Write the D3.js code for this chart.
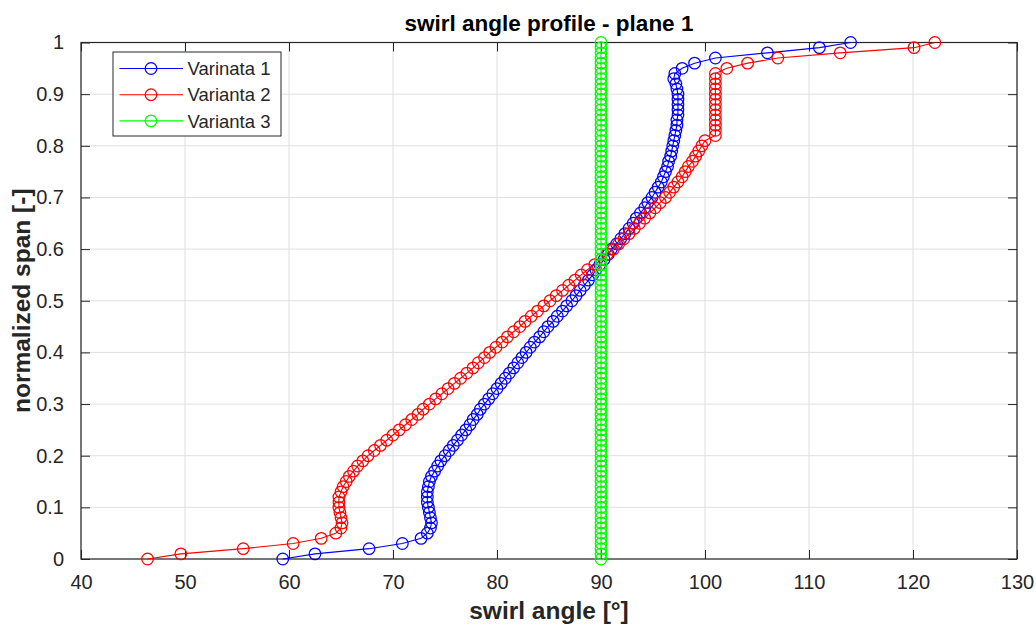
<!DOCTYPE html>
<html>
<head>
<meta charset="utf-8">
<script src="https://cdn.jsdelivr.net/npm/d3@7"></script>
<style>
  html, body { margin: 0; padding: 0; background: #fff; }
  svg { display: block; font-family: "Liberation Sans", Arial, Helvetica, sans-serif; }
</style>
</head>
<body>
<svg id="chart" width="1036" height="629"></svg>
<script>
// Normalized span stations, 0 .. 1 in steps of 0.01
const span = d3.range(0, 101).map(i => +(i / 100).toFixed(2));

// Swirl angle [°] at each span station
const variant1 = [
  59.4, 62.5, 67.7, 70.9, 72.7, 73.3, 73.6, 73.7, 73.6, 73.5,
  73.4, 73.3, 73.3, 73.3, 73.4, 73.5, 73.7, 74.0, 74.3, 74.6,
  75.0, 75.4, 75.8, 76.2, 76.6, 77.0, 77.4, 77.7, 78.1, 78.4,
  78.8, 79.2, 79.6, 80.0, 80.4, 80.8, 81.2, 81.6, 82.0, 82.4,
  82.8, 83.2, 83.6, 84.1, 84.5, 84.9, 85.4, 85.8, 86.3, 86.7,
  87.2, 87.6, 88.0, 88.4, 88.8, 89.2, 89.5, 89.9, 90.3, 90.7,
  91.0, 91.5, 91.9, 92.3, 92.7, 93.1, 93.4, 93.8, 94.2, 94.5,
  94.9, 95.2, 95.5, 95.8, 96.0, 96.2, 96.4, 96.5, 96.7, 96.8,
  96.9, 97.0, 97.1, 97.2, 97.3, 97.3, 97.4, 97.4, 97.4, 97.4,
  97.4, 97.3, 97.2, 97.0, 97.1, 97.8, 99.0, 101.0, 106.0, 111.0,
  114.0
];
const variant2 = [
  46.4, 49.6, 55.6, 60.4, 63.1, 64.5, 65.0, 65.1, 65.0, 64.9,
  64.8, 64.8, 64.8, 65.0, 65.2, 65.5, 65.8, 66.2, 66.6, 67.1,
  67.6, 68.2, 68.8, 69.4, 70.0, 70.6, 71.2, 71.8, 72.4, 72.9,
  73.5, 74.1, 74.7, 75.3, 75.9, 76.5, 77.1, 77.7, 78.2, 78.8,
  79.3, 79.9, 80.5, 81.0, 81.6, 82.2, 82.7, 83.3, 83.9, 84.5,
  85.1, 85.7, 86.3, 86.9, 87.5, 88.1, 88.7, 89.4, 90.0, 90.6,
  91.2, 91.7, 92.2, 92.7, 93.2, 93.7, 94.2, 94.7, 95.2, 95.7,
  96.2, 96.6, 97.0, 97.4, 97.8, 98.1, 98.4, 98.8, 99.1, 99.4,
  99.7, 100.0, 101.0, 101.0, 101.0, 101.0, 101.0, 101.0, 101.0, 101.0,
  101.0, 101.0, 101.0, 101.0, 101.0, 102.1, 104.1, 107.0, 113.0, 120.1,
  122.1
];
const variant3 = span.map(() => 90);

const seriesNames = ["Varinata 1", "Varianta 2", "Varianta 3"];
const seriesColors = ["#0000ff", "#ff0000", "#00ff00"];

const xTicks = [40, 50, 60, 70, 80, 90, 100, 110, 120, 130];
const yTicks = [0, 0.1, 0.2, 0.3, 0.4, 0.5, 0.6, 0.7, 0.8, 0.9, 1];

const titleText = "swirl angle profile - plane 1";
const xLabel = "swirl angle [°]";
const yLabel = "normalized span [-]";

// ---- layout ----
const svg = d3.select("#chart");
const plot = { left: 81, top: 42.5, right: 1017, bottom: 559 };
const axisColor = "#262626";
const gridColor = "#dfdfdf";
const tickLen = 9;

const x = d3.scaleLinear().domain([40, 130]).range([plot.left, plot.right]);
const y = d3.scaleLinear().domain([0, 1]).range([plot.bottom, plot.top]);

// grid
const grid = svg.append("g");
grid.selectAll(".gx").data(xTicks).join("line")
  .attr("x1", d => x(d)).attr("x2", d => x(d))
  .attr("y1", plot.top).attr("y2", plot.bottom)
  .attr("stroke", gridColor).attr("stroke-width", 1);
grid.selectAll(".gy").data(yTicks).join("line")
  .attr("x1", plot.left).attr("x2", plot.right)
  .attr("y1", d => y(d)).attr("y2", d => y(d))
  .attr("stroke", gridColor).attr("stroke-width", 1);

// axes with inward ticks on all four sides
const axisStyle = g => {
  g.select(".domain").remove();
  g.selectAll(".tick line").attr("stroke", axisColor).attr("stroke-width", 1);
  g.selectAll(".tick text").attr("fill", axisColor).attr("font-size", 20);
};
svg.append("g").attr("transform", `translate(0,${plot.bottom})`)
  .call(d3.axisBottom(x).tickValues(xTicks).tickSizeInner(-tickLen).tickSizeOuter(0).tickPadding(16).tickFormat(d3.format("d")))
  .call(axisStyle)
  .call(g => g.selectAll(".tick text").attr("dy", "0.71em"));
svg.append("g").attr("transform", `translate(0,${plot.top})`)
  .call(d3.axisTop(x).tickValues(xTicks).tickSizeInner(-tickLen).tickSizeOuter(0).tickFormat(""))
  .call(axisStyle);
svg.append("g").attr("transform", `translate(${plot.left},0)`)
  .call(d3.axisLeft(y).tickValues(yTicks).tickSizeInner(-tickLen).tickSizeOuter(0).tickPadding(17).tickFormat(d => d === 0 || d === 1 ? d3.format("d")(d) : d3.format(".1f")(d)))
  .call(axisStyle);
svg.append("g").attr("transform", `translate(${plot.right},0)`)
  .call(d3.axisRight(y).tickValues(yTicks).tickSizeInner(-tickLen).tickSizeOuter(0).tickFormat(""))
  .call(axisStyle);

// box
svg.append("rect")
  .attr("x", plot.left).attr("y", plot.top)
  .attr("width", plot.right - plot.left).attr("height", plot.bottom - plot.top)
  .attr("fill", "none").attr("stroke", axisColor).attr("stroke-width", 1.2);

// series: line + open circle markers
const allSeries = [variant1, variant2, variant3];
const line = d3.line().x(d => x(d[0])).y(d => y(d[1]));
allSeries.forEach((vals, i) => {
  const pts = vals.map((v, j) => [v, span[j]]);
  const g = svg.append("g");
  g.append("path").datum(pts)
    .attr("d", line).attr("fill", "none")
    .attr("stroke", seriesColors[i]).attr("stroke-width", 1.1);
  g.selectAll("circle").data(pts).join("circle")
    .attr("cx", d => x(d[0])).attr("cy", d => y(d[1])).attr("r", 5.8)
    .attr("fill", "none").attr("stroke", seriesColors[i]).attr("stroke-width", 1.25);
});

// legend
const leg = svg.append("g").attr("transform", "translate(113,52)");
leg.append("rect").attr("width", 168).attr("height", 84)
  .attr("fill", "#fff").attr("stroke", axisColor).attr("stroke-width", 1);
seriesNames.forEach((name, i) => {
  const cy = 16.5 + i * 26.2;
  leg.append("line").attr("x1", 6.5).attr("x2", 70).attr("y1", cy).attr("y2", cy)
    .attr("stroke", seriesColors[i]).attr("stroke-width", 1.1);
  leg.append("circle").attr("cx", 38).attr("cy", cy).attr("r", 5.8)
    .attr("fill", "none").attr("stroke", seriesColors[i]).attr("stroke-width", 1.25);
  leg.append("text").attr("x", 74.5).attr("y", cy).attr("dy", "0.36em")
    .attr("font-size", 18.5).attr("fill", axisColor).text(name);
});

// title and axis labels
svg.append("text").attr("x", (plot.left + plot.right) / 2).attr("y", 31)
  .attr("text-anchor", "middle").attr("font-weight", "bold").attr("font-size", 22.5)
  .attr("fill", "#000").text(titleText);
svg.append("text").attr("x", (plot.left + plot.right) / 2).attr("y", 619)
  .attr("text-anchor", "middle").attr("font-weight", "bold").attr("font-size", 24.5)
  .attr("fill", axisColor).text(xLabel);
svg.append("text")
  .attr("transform", `translate(30,${(plot.top + plot.bottom) / 2}) rotate(-90)`)
  .attr("text-anchor", "middle").attr("font-weight", "bold").attr("font-size", 24.5)
  .attr("fill", axisColor).text(yLabel);
</script>
</body>
</html>
